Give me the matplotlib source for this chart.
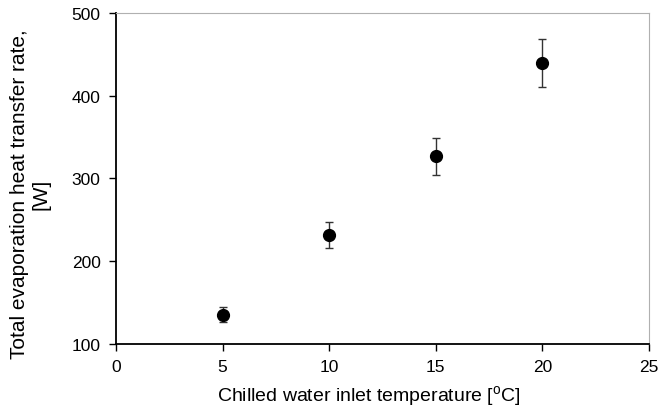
import numpy as np
import matplotlib.pyplot as plt

plt.rcParams['font.family'] = ['Liberation Sans', 'DejaVu Sans']
plt.rcParams['mathtext.fontset'] = 'custom'
plt.rcParams['mathtext.rm'] = 'Liberation Sans'

# Datos
temp_agua = [5, 10, 15, 20]
calor_evap = [135.5, 232, 327, 440]
err_inf = [8.5, 15.5, 23, 29.5]
err_sup = [9, 15.5, 22, 29]

x_ticks = [0, 5, 10, 15, 20, 25]
y_ticks = [100, 200, 300, 400, 500]

fig = plt.figure(figsize=(6.59, 4.14), dpi=100)
ax = fig.add_axes([0.176, 0.1667, 0.809, 0.7995])

ax.errorbar(temp_agua, calor_evap, yerr=[err_inf, err_sup], fmt='o', color='black',
            markersize=8.5, ecolor='#333333', elinewidth=1.0, capsize=3, capthick=1.0)

ax.set_xlim(0, 25)
ax.set_ylim(100, 500)
ax.set_xticks(x_ticks)
ax.set_yticks(y_ticks)

ax.spines['left'].set_linewidth(1.3)
ax.spines['bottom'].set_linewidth(1.3)
ax.spines['top'].set_color('#b0b0b0')
ax.spines['right'].set_color('#b0b0b0')
ax.spines['top'].set_linewidth(0.8)
ax.spines['right'].set_linewidth(0.8)

ax.tick_params(direction='out', length=5, width=1, labelsize=12.5, pad=6)

ax.set_xlabel('Chilled water inlet temperature [$^{\\mathrm{o}}$C]', fontsize=14)
ax.set_ylabel('Total evaporation heat transfer rate,\n[W]', fontsize=15)
ax.xaxis.set_label_coords(0.475, -0.118)
ax.yaxis.set_label_coords(-0.122, 0.456)

plt.savefig('out.png', dpi=100)
